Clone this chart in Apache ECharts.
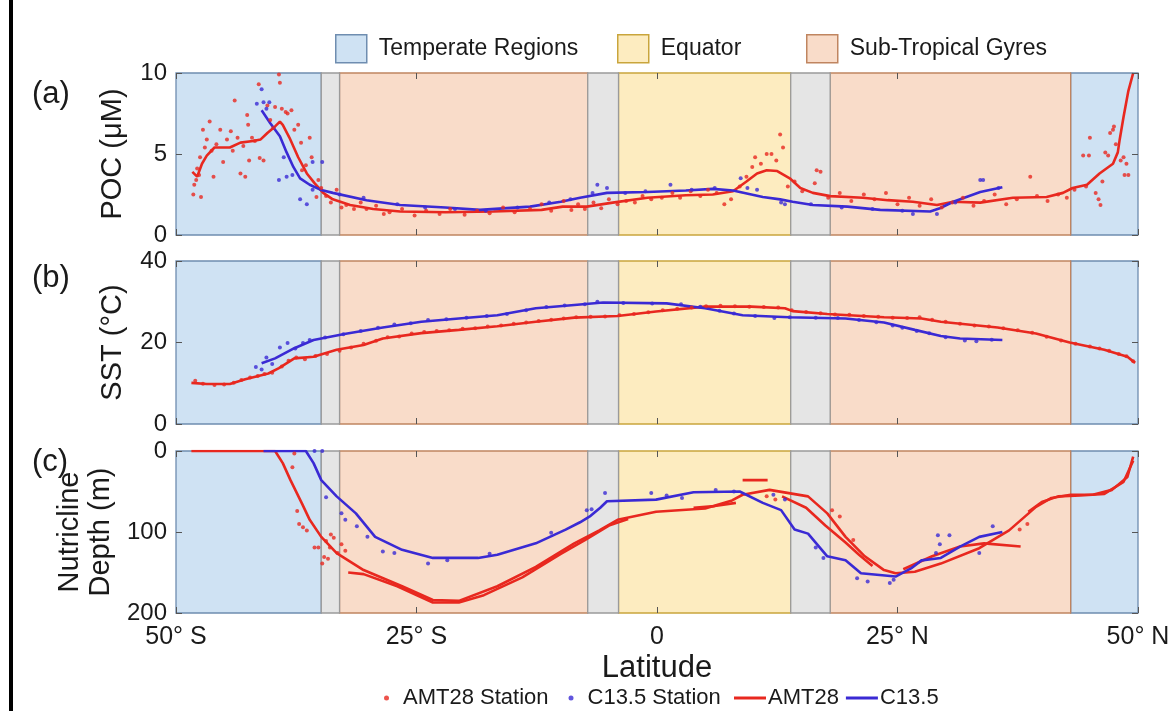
<!DOCTYPE html>
<html>
<head>
<meta charset="utf-8">
<title>POC, SST and nutricline depth by latitude</title>
<script src="https://cdn.jsdelivr.net/npm/echarts@6/dist/echarts.min.js"></script>
</head>
<body style="margin:0;background:#fff">
<div id="main" style="width:1176px;height:711px;"></div>
<script type="text/javascript">
var FONT = 'Liberation Sans, Arial, sans-serif';
var TXT = '#1a1a1a';
var RED = '#e8281f', BLUE = '#3a2ad4';

// latitude bands [from, to]
var temperate = [[-50, -34.9], [43.0, 50]];
var equator = [[-4.0, 13.9]];
var gyres = [[-33.0, -7.2], [18.0, 43.0]];
var transition = [[-34.9, -33.0], [-7.2, -4.0], [13.9, 18.0]];

// (a) POC
var amtPocLine = [[-48.3,3.9],[-47.8,3.6],[-47.3,4.4],[-46.8,4.9],[-46.0,5.4],[-44.4,5.4],[-43.3,5.7],[-42.0,5.8],[-41.2,5.9],[-40.5,6.3],[-39.7,6.7],[-39.2,7.0],[-38.9,6.8],[-38.2,6.0],[-37.3,4.8],[-36.4,3.8],[-35.6,3.2],[-34.7,2.6],[-33.7,2.2],[-31.9,1.85],[-29.5,1.6],[-26.7,1.45],[-22,1.4],[-17,1.45],[-12,1.55],[-9.8,1.75],[-7.3,1.75],[-4.6,2.0],[-1.0,2.3],[3,2.45],[5.8,2.5],[7.9,2.7],[9.3,3.3],[10.4,3.8],[11.4,4.0],[12.5,3.95],[13.8,3.5],[14.9,2.9],[16.2,2.6],[18.0,2.4],[21.4,2.3],[24,2.15],[26.6,2.05],[29.1,1.85],[30.8,2.05],[33.6,2.0],[37.0,2.3],[40.5,2.35],[42.2,2.6],[43.2,2.9],[44.7,3.1],[46.0,3.8],[47.4,4.4],[47.9,5.1],[48.1,5.9],[48.5,7.3],[49.0,8.9],[49.5,10]];
var c135PocLine = [[-41.1,7.7],[-40.2,6.9],[-39.2,6.1],[-38.5,5.1],[-37.8,4.2],[-37.1,3.5],[-36.1,3.1],[-35.0,2.8],[-33.7,2.6],[-30.2,2.15],[-26.7,1.85],[-22,1.7],[-18.4,1.55],[-13.2,1.75],[-10,2.05],[-8,2.3],[-5.2,2.6],[-1,2.65],[3,2.75],[5.8,2.85],[7.9,2.75],[11,2.35],[12.8,2.2],[14.1,2.05],[16.2,1.85],[19.8,1.75],[23.2,1.55],[28.4,1.45],[29.4,1.65],[30.8,2.05],[33.6,2.65],[35.9,2.95]];
var amtPocStn = [[-48.2,2.5],[-48.1,3.1],[-47.9,3.4],[-47.8,4.1],[-47.6,3.7],[-47.5,4.8],[-47.4,2.35],[-47.2,6.5],[-47.0,5.4],[-46.8,5.9],[-46.5,7.0],[-46.3,5.2],[-46.1,3.6],[-45.8,5.6],[-45.4,6.5],[-45.1,4.5],[-44.7,5.9],[-44.3,6.4],[-44.1,5.2],[-43.9,8.3],[-43.6,6.0],[-43.3,3.8],[-43.0,5.5],[-42.8,3.6],[-42.6,7.4],[-42.5,6.8],[-42.4,4.6],[-42.1,6.0],[-41.8,5.8],[-41.4,9.3],[-41.3,4.75],[-40.9,4.6],[-40.5,8.0],[-40.2,7.1],[-39.9,6.6],[-39.7,7.9],[-39.3,9.9],[-39.2,9.4],[-39.0,7.8],[-38.6,7.6],[-38.4,7.5],[-38.0,7.7],[-37.7,6.5],[-37.3,6.8],[-37.0,5.7],[-36.9,4.0],[-36.5,4.3],[-36.1,6.0],[-35.9,4.8],[-35.4,2.35],[-35.2,3.4],[-34.9,2.9],[-34.4,2.4],[-33.9,2.0],[-33.3,2.8],[-32.8,1.7],[-32.3,1.85],[-31.5,1.6],[-30.8,2.0],[-30.2,1.6],[-29.2,1.8],[-28.4,1.3],[-27.8,1.4],[-26.5,1.6],[-25.2,1.2],[-24.0,1.5],[-22.6,1.3],[-21.5,1.6],[-20.0,1.25],[-18.7,1.5],[-17.4,1.35],[-16.0,1.7],[-14.8,1.4],[-13.2,1.6],[-12.0,1.9],[-11.0,1.5],[-9.7,2.1],[-8.9,1.55],[-8.2,1.9],[-7.5,1.6],[-6.6,2.0],[-5.8,1.65],[-5.0,2.2],[-4.1,1.9],[-3.2,2.1],[-2.3,2.0],[-1.5,2.4],[-0.6,2.2],[0.5,2.3],[1.6,2.6],[2.4,2.3],[3.5,2.7],[4.5,2.4],[5.3,2.8],[6.2,2.6],[7.0,1.9],[7.7,2.2],[8.6,3.0],[9.3,3.6],[9.9,4.2],[10.2,4.8],[10.8,4.4],[11.4,5.0],[11.9,5.0],[12.4,4.6],[12.8,6.2],[13.1,5.4],[13.6,3.0],[14.3,3.3],[15.1,2.7],[16.4,3.2],[16.6,4.0],[17.0,3.9],[17.8,2.3],[19.0,2.6],[20.2,2.1],[21.5,2.5],[22.6,2.2],[23.8,2.6],[25.0,1.9],[26.2,2.3],[27.3,1.8],[28.5,2.2],[29.6,1.7],[30.7,2.0],[31.8,2.3],[32.9,1.8],[34.0,2.1],[35.1,2.5],[36.3,1.9],[37.4,2.2],[38.8,3.6],[39.5,2.4],[40.6,2.1],[41.7,2.5],[42.6,2.3],[43.4,2.8],[44.3,4.9],[44.6,3.0],[44.9,4.9],[45.0,6.0],[45.6,2.6],[45.9,2.2],[46.1,1.85],[46.3,3.3],[46.6,5.1],[46.9,4.9],[47.1,6.3],[47.4,6.5],[47.5,6.7],[47.7,5.6],[48.2,4.6],[48.5,4.8],[48.6,3.7],[48.8,4.4],[49.0,3.7]];
var c135PocStn = [[-41.6,8.1],[-41.1,9.0],[-40.9,8.2],[-40.6,7.8],[-40.3,8.2],[-39.3,3.4],[-38.8,4.8],[-38.5,3.6],[-37.9,3.7],[-37.1,2.2],[-36.4,1.9],[-35.8,2.8],[-35.8,4.5],[-34.8,4.5],[-33.0,2.5],[-30.5,2.3],[-27.0,1.9],[-24.1,1.7],[-21.0,1.6],[-17.8,1.5],[-14.5,1.7],[-11.2,2.0],[-9.0,2.2],[-6.7,2.6],[-6.2,3.1],[-5.2,2.9],[-3.3,2.6],[-1.2,2.7],[1.4,3.1],[3.6,2.8],[6.0,2.9],[8.7,3.5],[9.4,2.9],[10.4,2.8],[12.9,2.0],[13.3,1.9],[16.0,1.9],[19.2,1.7],[22.4,1.6],[25.5,1.5],[26.6,1.3],[29.1,1.3],[31.0,2.0],[33.6,3.4],[33.9,3.4],[35.5,2.9]];

// (b) SST
var amtSstLine = [[-48.4,10.1],[-46.8,9.8],[-44.4,9.8],[-42.8,11.0],[-40.4,12.4],[-39.3,13.7],[-37.7,16.1],[-35.7,16.5],[-33.3,18.2],[-30.5,19.4],[-28.5,21.0],[-24.5,22.3],[-20.6,23.1],[-16.6,24.0],[-12.6,25.1],[-8.6,26.1],[-4.1,26.5],[-0.1,27.6],[5.0,28.8],[9.8,28.8],[13.3,28.4],[14.1,27.7],[17.7,27.0],[23.6,26.2],[27.5,25.9],[29.5,25.1],[35.4,23.7],[39.4,22.2],[42.9,20.0],[46.5,18.2],[48.9,16.5],[49.7,15.0]];
var c135SstLine = [[-41.1,14.9],[-39.7,16.1],[-37.7,18.6],[-35.7,20.6],[-32.5,22.1],[-28.5,23.7],[-24.5,25.1],[-20.6,25.9],[-16.6,26.7],[-12.6,28.4],[-8.6,29.2],[-5.6,29.8],[1.0,29.6],[5.0,28.4],[8.9,26.7],[13.7,26.2],[19.6,25.9],[23.6,24.9],[26.8,23.1],[29.5,21.6],[31.5,21.0],[35.9,20.6]];
var amtSstStn = [[-48.0,10.6],[-47.2,9.9],[-46.0,9.6],[-45.0,9.7],[-44.0,10.1],[-43.2,10.8],[-42.3,11.4],[-41.5,11.8],[-40.8,12.3],[-40.0,12.6],[-39.0,14.1],[-38.3,15.5],[-37.5,16.3],[-36.6,15.9],[-35.5,16.7],[-34.3,17.2],[-33.0,18.0],[-31.8,18.8],[-30.5,19.7],[-29.2,20.4],[-28.0,21.3],[-26.8,21.5],[-25.5,22.2],[-24.2,22.6],[-22.9,22.8],[-21.6,23.0],[-20.2,23.4],[-18.9,23.5],[-17.6,23.9],[-16.2,24.2],[-14.9,24.6],[-13.6,24.9],[-12.3,25.3],[-11.0,25.6],[-9.7,25.9],[-8.4,26.2],[-6.9,26.3],[-5.4,26.4],[-3.9,26.7],[-2.4,27.0],[-0.9,27.4],[0.6,27.9],[2.1,28.3],[3.6,28.6],[5.1,28.9],[6.6,29.0],[8.1,28.9],[9.6,28.8],[11.1,28.7],[12.6,28.6],[14.0,27.9],[15.5,27.5],[17.0,27.2],[18.5,26.9],[20.0,26.8],[21.5,26.5],[23.0,26.3],[24.5,26.1],[26.0,26.0],[27.3,26.2],[28.6,25.6],[30.0,25.1],[31.5,24.6],[33.0,24.2],[34.5,23.9],[36.0,23.5],[37.5,23.0],[39.0,22.4],[40.5,21.4],[42.0,20.5],[43.5,19.7],[45.0,19.0],[46.0,18.5],[47.0,18.0],[48.0,17.2],[48.8,16.6],[49.5,15.4]];
var c135SstStn = [[-41.7,14.0],[-41.1,13.4],[-40.6,16.3],[-40.0,14.7],[-39.2,18.8],[-38.4,19.9],[-37.6,18.5],[-36.8,19.9],[-36.1,20.6],[-34.5,21.2],[-32.6,22.0],[-30.8,22.8],[-29.0,23.6],[-27.3,24.4],[-25.6,24.7],[-23.8,25.5],[-21.9,25.7],[-19.8,26.1],[-17.7,26.5],[-15.6,27.0],[-13.6,27.9],[-11.5,28.7],[-9.6,29.1],[-7.5,29.4],[-6.2,30.0],[-3.5,29.7],[-0.5,29.6],[2.5,29.4],[4.5,28.8],[6.5,27.8],[8.0,27.1],[10.2,26.5],[12.2,26.0],[13.8,26.2],[16.5,26.1],[18.8,26.0],[21.0,25.5],[22.8,25.0],[24.5,24.2],[25.5,23.6],[27.0,22.8],[28.3,22.3],[30.0,21.3],[32.0,20.5],[33.2,20.3],[34.8,20.7]];

// (c) nutricline depth; AMT28 has several overlapping traces
var amtNutLine = [[-48.4,0],[-39.7,0],[-38.9,15],[-38.1,36],[-36.9,65],[-36.1,85],[-34.9,106],[-33.3,126],[-30.5,147],[-26.5,167],[-23.3,184],[-20.6,185],[-16.6,167],[-12.6,143],[-8.6,114],[-6.0,98],[-4.1,85],[-0.1,75],[5.0,71],[7.8,61],[8.9,54],[11.7,48],[13.7,52],[15.7,56],[17.7,77],[19.6,106],[21.6,130],[23.6,147],[24.8,151],[26.8,149],[29.5,139],[33.5,120],[36.6,98],[39.4,69],[41.0,58],[43.0,54],[45.3,54],[47.3,48],[48.9,32],[49.5,7]];
var amtNutTrace1 = [[-32.1,150],[-30.5,152],[-27,167],[-23.3,187],[-20.6,187],[-18,178],[-14,156],[-10,127],[-7.5,110],[-5,92],[-3,84]];
var amtNutTrace2 = [[3.8,70],[6,68],[8.2,64]];
var amtNutTrace3 = [[8.9,36],[11.5,36]];
var amtNutTrace4 = [[13,56],[15.5,70],[17.5,92],[19.6,113],[21.0,128],[22.4,142]];
var amtNutTrace5 = [[25.6,146],[28.6,130],[31.5,118],[34,114],[37.8,118]];
var amtNutTrace6 = [[38.6,75],[40,63],[41.7,56],[44,55],[46.5,53],[48.5,38],[49.5,12]];
var c135NutLine = [[-40.9,0],[-36.5,0],[-35.7,15],[-34.9,36],[-33.3,56],[-31.3,77],[-29.3,106],[-26.5,122],[-23.3,132],[-18.6,132],[-16.6,128],[-12.6,114],[-9.5,97],[-8.0,88],[-6.9,80],[-5.9,70],[-5.2,62],[-0.1,60],[3.8,51],[8.6,50],[11.0,64],[12.9,73],[14.3,97],[15.7,102],[17.7,130],[19.6,135],[21.2,151],[24.8,155],[26.4,145],[27.5,135],[29.5,132],[31.5,118],[33.5,106],[35.9,100]];
var amtNutStn = [[-37.9,20],[-37.7,3],[-37.4,74],[-37.2,90],[-36.8,94],[-36.4,98],[-35.6,119],[-35.2,119],[-34.8,139],[-34.6,131],[-34.4,111],[-34.2,133],[-34.0,119],[-33.9,103],[-33.6,107],[-33.2,126],[-32.8,115],[-32.4,123],[11.4,56],[12.3,60],[18.2,73],[19.0,81],[20.4,110],[37.7,97],[38.5,90]];
var c135NutStn = [[-35.6,0],[-34.8,0],[-34.4,57],[-32.8,77],[-32.4,85],[-31.2,93],[-30.1,106],[-28.5,124],[-27.3,126],[-23.8,139],[-21.8,135],[-17.4,127],[-11.0,101],[-7.3,73],[-6.8,72],[-5.4,52],[-0.6,52],[1.0,55],[2.6,58],[6.1,48],[8.0,50],[12.1,54],[13.3,60],[16.5,119],[17.3,132],[20.8,157],[21.9,161],[24.2,163],[24.6,159],[29.0,126],[29.2,104],[29.4,115],[30.4,104],[33.5,126],[34.9,93]];

var panels = [
    {top: 73, height: 162, min: 0, max: 10, interval: 5, inverse: false, name: 'POC (μM)', tag: '(a)'},
    {top: 261, height: 163, min: 0, max: 40, interval: 20, inverse: false, name: 'SST (°C)', tag: '(b)'},
    {top: 451, height: 162, min: 0, max: 200, interval: 100, inverse: true, name: 'Nutricline\nDepth (m)', tag: '(c)'}
];

var chart = echarts.init(document.getElementById('main'));

function latLabel(v) {
    if (v === 0) return '0';
    return Math.abs(v) + '° ' + (v < 0 ? 'S' : 'N');
}

// MATLAB-style ticks pointing into the box; axis lines themselves come from the band borders
function ticks() {
    return {show: true, inside: false, length: -6, lineStyle: {color: '#555', width: 1}};
}
var noLine = {show: false, onZero: false};

var grids = [], xAxes = [], yAxes = [], series = [];
panels.forEach(function (p, i) {
    grids.push({left: 176, right: 38, top: p.top, height: p.height});
    var last = i === panels.length - 1;
    xAxes.push({
        gridIndex: i, type: 'value', position: 'bottom', min: -50, max: 50, interval: 25, z: 10,
        axisLine: noLine, axisTick: ticks(), splitLine: {show: false},
        axisLabel: {show: last, formatter: latLabel, fontSize: 25, color: TXT, fontFamily: FONT, margin: 12},
        name: last ? 'Latitude' : '', nameLocation: 'middle', nameGap: 40,
        nameTextStyle: {fontSize: 31, color: TXT, fontFamily: FONT}
    });
    xAxes.push({
        gridIndex: i, type: 'value', position: 'top', min: -50, max: 50, interval: 25, z: 10,
        axisLine: noLine, axisTick: ticks(), splitLine: {show: false}, axisLabel: {show: false}
    });
    yAxes.push({
        gridIndex: i, type: 'value', position: 'left', min: p.min, max: p.max, interval: p.interval, inverse: p.inverse, z: 10,
        axisLine: noLine, axisTick: ticks(), splitLine: {show: false},
        axisLabel: {fontSize: 24, color: TXT, fontFamily: FONT, margin: 9},
        name: p.name, nameLocation: 'middle', nameRotate: 90, nameGap: 48,
        nameTextStyle: {fontSize: 29, color: TXT, fontFamily: FONT, lineHeight: 31, align: 'center'}
    });
    yAxes.push({
        gridIndex: i, type: 'value', position: 'right', min: p.min, max: p.max, interval: p.interval, inverse: p.inverse, z: 10,
        axisLine: noLine, axisTick: ticks(), splitLine: {show: false}, axisLabel: {show: false}
    });
});

function regionSeries(name, data, fill, stroke, gi) {
    return {
        name: name, type: 'custom', xAxisIndex: gi * 2, yAxisIndex: gi * 2, data: data, z: 1, silent: true,
        itemStyle: {color: fill, borderColor: stroke},
        encode: {x: [0, 1]},
        renderItem: function (params, api) {
            var cs = params.coordSys;
            var a = api.coord([api.value(0), panels[gi].min]);
            var b = api.coord([api.value(1), panels[gi].min]);
            return {
                type: 'rect',
                shape: {x: a[0], y: cs.y, width: b[0] - a[0], height: cs.height},
                style: {fill: fill, stroke: stroke, lineWidth: 1.3}
            };
        }
    };
}
function lineSeries(name, data, color, gi) {
    return {name: name, type: 'line', xAxisIndex: gi * 2, yAxisIndex: gi * 2, data: data,
        symbol: 'none', lineStyle: {color: color, width: 2.6}, itemStyle: {color: color}, z: 3, silent: true};
}
function dotSeries(name, data, color, gi) {
    return {name: name, type: 'scatter', xAxisIndex: gi * 2, yAxisIndex: gi * 2, data: data,
        symbolSize: 4, itemStyle: {color: color}, z: 4, silent: true};
}

var TEMP_FILL = '#cfe2f3', TEMP_EDGE = '#6f8db0';
var EQ_FILL = '#fdecc0', EQ_EDGE = '#c9a53c';
var GY_FILL = '#f9dcc9', GY_EDGE = '#c08560';
var TR_FILL = '#e5e5e5', TR_EDGE = '#9a9a9a';

[0, 1, 2].forEach(function (gi) {
    series.push(regionSeries('Temperate Regions', temperate, TEMP_FILL, TEMP_EDGE, gi));
    series.push(regionSeries('Equator', equator, EQ_FILL, EQ_EDGE, gi));
    series.push(regionSeries('Sub-Tropical Gyres', gyres, GY_FILL, GY_EDGE, gi));
    series.push(regionSeries('Transition', transition, TR_FILL, TR_EDGE, gi));
});

series.push(dotSeries('AMT28 Station', amtPocStn, RED, 0));
series.push(dotSeries('C13.5 Station', c135PocStn, BLUE, 0));
series.push(lineSeries('AMT28', amtPocLine, RED, 0));
series.push(lineSeries('C13.5', c135PocLine, BLUE, 0));

series.push(dotSeries('AMT28 Station', amtSstStn, RED, 1));
series.push(dotSeries('C13.5 Station', c135SstStn, BLUE, 1));
series.push(lineSeries('AMT28', amtSstLine, RED, 1));
series.push(lineSeries('C13.5', c135SstLine, BLUE, 1));

series.push(dotSeries('AMT28 Station', amtNutStn, RED, 2));
series.push(dotSeries('C13.5 Station', c135NutStn, BLUE, 2));
[amtNutLine, amtNutTrace1, amtNutTrace2, amtNutTrace3, amtNutTrace4, amtNutTrace5, amtNutTrace6].forEach(function (d) {
    series.push(lineSeries('AMT28', d, RED, 2));
});
series.push(lineSeries('C13.5', c135NutLine, BLUE, 2));

function regionLegend(name, fill, edge, left) {
    return {
        data: [{name: name, icon: 'rect', itemStyle: {color: fill, borderColor: edge, borderWidth: 1.5}}],
        left: left, top: 34, padding: 0, itemWidth: 31, itemHeight: 28, selectedMode: false,
        textStyle: {fontSize: 23, color: TXT, fontFamily: FONT, padding: [0, 0, 0, 7]}
    };
}

var option = {
    animation: false,
    backgroundColor: '#fff',
    grid: grids,
    xAxis: xAxes,
    yAxis: yAxes,
    legend: [
        regionLegend('Temperate Regions', TEMP_FILL, TEMP_EDGE, 335),
        regionLegend('Equator', EQ_FILL, EQ_EDGE, 617),
        regionLegend('Sub-Tropical Gyres', GY_FILL, GY_EDGE, 806),
        {
            data: [{name: 'AMT28 Station', icon: 'circle'}, {name: 'C13.5 Station', icon: 'circle'}],
            left: 384, top: 687, padding: 0, itemWidth: 5, itemHeight: 5, itemGap: 20, selectedMode: false,
            textStyle: {fontSize: 22, color: TXT, fontFamily: FONT, padding: [0, 0, 0, 9]}
        },
        {
            data: [
                {name: 'AMT28', icon: 'rect', itemStyle: {color: RED}},
                {name: 'C13.5', icon: 'rect', itemStyle: {color: BLUE}}
            ],
            left: 734, top: 687, padding: 0, itemWidth: 32, itemHeight: 3, itemGap: 7, selectedMode: false,
            textStyle: {fontSize: 22, color: TXT, fontFamily: FONT, padding: [0, 0, 0, -3]}
        }
    ],
    graphic: [
        {type: 'rect', left: 9, top: 0, shape: {width: 4, height: 711}, style: {fill: '#000'}},
        {type: 'text', left: 32, top: 79, style: {text: '(a)', fontSize: 31, fill: TXT, fontFamily: FONT}},
        {type: 'text', left: 32, top: 263, style: {text: '(b)', fontSize: 31, fill: TXT, fontFamily: FONT}},
        {type: 'text', left: 32, top: 447, style: {text: '(c)', fontSize: 31, fill: TXT, fontFamily: FONT}}
    ],
    series: series
};
chart.setOption(option);
</script>
</body>
</html>
